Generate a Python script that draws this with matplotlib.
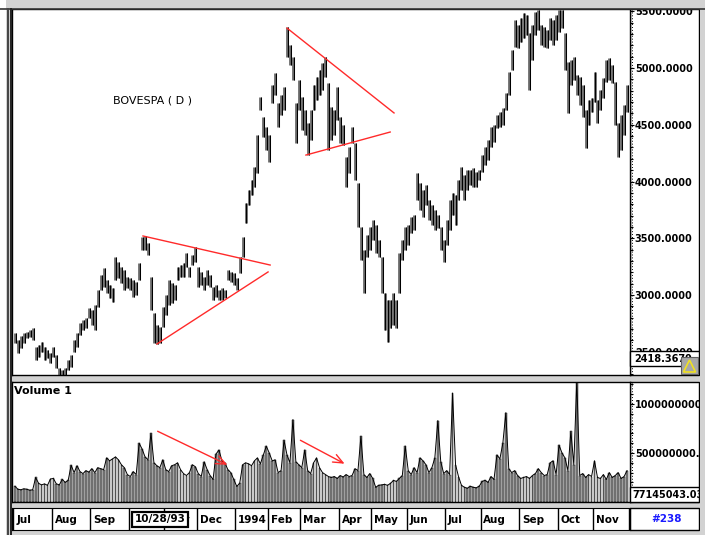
import numpy as np
import matplotlib
matplotlib.use('Agg')
import matplotlib.pyplot as plt
from matplotlib import font_manager
from matplotlib.patches import Rectangle, Polygon
from matplotlib.lines import Line2D
from matplotlib.ticker import MultipleLocator, FormatStrFormatter

# BOVESPA daily bars Jul/93 - Nov/94 (2 sessions per bar)
high = [2665, 2604, 2639, 2665, 2674, 2692, 2709, 2542, 2560, 2586,
        2542, 2516, 2489, 2542, 2472, 2357, 2339, 2357, 2427, 2472,
        2604, 2665, 2753, 2780, 2797, 2886, 2868, 2912, 3044, 3176,
        3238, 3132, 3088, 3062, 3335, 3291, 3247, 3220, 3159, 3150,
        3132, 3115, 3282, 3511, 3520, 3458, 3159, 2841, 2736, 2718,
        2894, 3000, 3132, 3106, 3088, 3247, 3264, 3282, 3370, 3247,
        3353, 3423, 3247, 3203, 3159, 3220, 3176, 3071, 3088, 3044,
        3062, 3044, 3220, 3203, 3194, 3150, 3335, 3511, 3811, 3925,
        4013, 4128, 4410, 4744, 4568, 4480, 4410, 4850, 4956, 4692,
        4762, 4833, 5361, 5203, 5097, 4692, 4894, 4744, 4630, 4515,
        4630, 4850, 4921, 4982, 5044, 5097, 4868, 4656, 4630, 4833,
        4568, 4498, 4216, 4304, 4480, 4339, 3987, 3599, 3397, 3529,
        3599, 3661, 3617, 3485, 3335, 3018, 2956, 2956, 3018, 2956,
        3370, 3485, 3599, 3617, 3687, 3705, 4075, 3987, 3925, 3969,
        3837, 3793, 3749, 3705, 3599, 3485, 3661, 3837, 3899, 3881,
        4013, 4128, 4057, 4101, 4101, 4119, 4084, 4101, 4233, 4304,
        4366, 4480, 4498, 4586, 4612, 4648, 4780, 4965, 5159, 5423,
        5379, 5440, 5484, 5467, 5308, 5379, 5493, 5511, 5379, 5361,
        5335, 5440, 5423, 5467, 5511, 5511, 5308, 5053, 5070, 5097,
        4938, 4921, 4850, 4630, 4718, 4736, 4965, 4718, 4806, 4912,
        5070, 5088, 5026, 4877, 4515, 4586, 4674, 4850]
low = [2577, 2489, 2533, 2577, 2621, 2630, 2604, 2427, 2454, 2498,
       2427, 2445, 2401, 2454, 2357, 2295, 2286, 2295, 2339, 2366,
       2498, 2542, 2648, 2692, 2709, 2797, 2736, 2692, 2894, 3044,
       3071, 3018, 2974, 2938, 3132, 3150, 3106, 3044, 3062, 3044,
       2982, 3000, 3132, 3397, 3397, 3353, 2868, 2577, 2568, 2577,
       2718, 2824, 2912, 2930, 2956, 3132, 3159, 3159, 3247, 3159,
       3264, 3291, 3071, 3088, 3044, 3088, 3071, 2956, 2982, 2956,
       2956, 2974, 3132, 3115, 3088, 3044, 3194, 3335, 3634, 3793,
       3881, 3952, 4075, 4630, 4392, 4278, 4172, 4692, 4762, 4480,
       4586, 4630, 5097, 5026, 4894, 4339, 4630, 4454, 4410, 4233,
       4366, 4630, 4718, 4762, 4806, 4921, 4278, 4366, 4410, 4542,
       4339, 4322, 3952, 4075, 4339, 4013, 3599, 3308, 3018, 3335,
       3397, 3485, 3370, 3335, 3018, 2692, 2586, 2709, 2736, 2709,
       3018, 3308, 3397, 3441, 3546, 3573, 3837, 3749, 3687, 3793,
       3661, 3617, 3573, 3590, 3397, 3291, 3441, 3573, 3705, 3617,
       3837, 3925, 3837, 3925, 3969, 3952, 3952, 4013, 4084, 4145,
       4190, 4304, 4348, 4471, 4480, 4498, 4630, 4762, 4982, 5185,
       5176, 5229, 5264, 5291, 4806, 5070, 5291, 5335, 5203, 5185,
       5176, 5247, 5203, 5247, 5317, 5352, 4982, 4604, 4850, 4894,
       4762, 4674, 4568, 4295, 4498, 4612, 4700, 4515, 4630, 4736,
       4877, 4894, 4868, 4498, 4216, 4278, 4410, 4612]
# volume in millions
volume = [160, 130, 125, 135, 130, 120, 125, 250, 190, 175,
          185, 170, 235, 240, 185, 175, 230, 200, 220, 375,
          300, 370, 310, 290, 320, 305, 340, 300, 350, 340,
          330, 450, 420, 440, 460, 430, 380, 350, 280, 260,
          310, 280, 600, 540, 460, 430, 700, 400, 370, 350,
          430, 330, 310, 370, 380, 400, 330, 290, 270, 300,
          380, 360, 290, 260, 410, 330, 270, 230, 490, 530,
          420, 400, 330, 300, 230, 160, 190, 380, 400, 390,
          370, 420, 450, 390, 480, 570, 500, 420, 430, 300,
          320, 630, 480, 400, 840, 410, 380, 350, 530, 320,
          290, 400, 450, 350, 300, 280, 260, 250, 260, 240,
          270, 255, 280, 260, 270, 340, 320, 670, 280, 250,
          290, 240, 150, 170, 175, 180, 170, 190, 220, 210,
          240, 270, 570, 320, 280, 350, 300, 450, 420, 380,
          300, 350, 450, 830, 410, 290, 320, 280, 1110, 380,
          260, 170, 150, 140, 160, 150, 145, 160, 210, 220,
          200, 260, 230, 480, 440, 600, 910, 340, 300, 320,
          270, 240, 250, 260, 240, 270, 290, 340, 300, 270,
          280, 400, 420, 280, 580, 500, 450, 320, 720, 380,
          1240, 270, 290, 250, 280, 260, 420, 250, 240, 280,
          230, 300, 250, 270, 300, 240, 260, 320]

months = ['Jul', 'Aug', 'Sep', 'Oct', 'Nov', 'Dec', '1994', 'Feb', 'Mar',
          'Apr', 'May', 'Jun', 'Jul', 'Aug', 'Sep', 'Oct', 'Nov']
bars_per_month = [13, 13, 13, 12, 11, 13, 11, 11, 13, 11, 12, 13, 12, 13, 13, 12, 12]
cursor_bar = 49
cursor_label = '10/28/93'

# hand drawn red lines: (bar, price) and arrows on volume: (bar, volume M)
trend_bars = [[43.3, 86.3], [48.0, 85.6], [92.0, 128.2], [98.4, 126.9]]
trend_prices = [[3520, 3264], [2568, 3203], [5352, 4604], [4233, 4436]]
arrow_bars = [[47.4, 72.7], [95.7, 112.3]]
arrow_vols = [[734, 367], [643, 377]]

W, H = 705, 535
names = {f.name for f in font_manager.fontManager.ttflist}
if 'Liberation Sans Narrow' in names:
    FONT, FS, TS = 'Liberation Sans Narrow', 10, 9.5
else:
    FONT, FS, TS = 'DejaVu Sans', 7.5, 7
plt.rcParams['font.family'] = FONT
plt.rcParams['font.weight'] = 'bold'

def box(x0, y0, x1, y1):
    return [x0 / W, 1 - y1 / H, (x1 - x0) / W, (y1 - y0) / H]

def rect(x0, y0, x1, y1, z, fc='white', ec='black', lw=1):
    r = Rectangle((x0 / W, 1 - y1 / H), (x1 - x0) / W, (y1 - y0) / H,
                  transform=fig.transFigure, fc=fc, ec=ec, lw=lw, zorder=z)
    fig.patches.append(r)

fig = plt.figure(figsize=(W / 100, H / 100), dpi=100, facecolor='#d2d2d2')

# white boxes behind the right hand scales
rect(630, 9, 699, 375, -1)
rect(630, 382, 699, 502, -1)
rect(630, 508, 699, 530, -1)

ax = fig.add_axes(box(12, 9, 630, 375))
axv = fig.add_axes(box(12, 382, 630, 502))
axd = fig.add_axes(box(12, 508, 630, 530))

n = len(high)
x = np.arange(n)
hi = np.array(high)
lo = np.array(low)
vol = np.array(volume) * 1e6

# price bars
ax.vlines(x, lo, hi, color='#6a6a6a', lw=2.0)
ax.vlines(x + 0.3, lo, hi, color='black', lw=0.75)
for xs, ps in zip(trend_bars, trend_prices):
    ax.plot(xs, ps, color='#ff2a2a', lw=1.0)
ax.set_xlim(-1, n)
ax.set_ylim(2295, 5520)
ax.text(0.163, 0.749, 'BOVESPA ( D )', transform=ax.transAxes, fontsize=FS + 0.5,
        fontweight='normal', va='center', ha='left')

# volume
axv.bar(x, vol, width=0.6, color='#8e8e8e', edgecolor='black', lw=0.3)
axv.plot(x, vol, color='black', lw=0.7)
for xs, vs in zip(arrow_bars, arrow_vols):
    axv.annotate('', xy=(xs[1], vs[1] * 1e6), xytext=(xs[0], vs[0] * 1e6),
                 arrowprops=dict(arrowstyle='->,head_length=0.7,head_width=0.3',
                                 color='#ff2a2a', lw=1.0))
axv.set_xlim(-1, n)
axv.set_ylim(0, 1224e6)
axv.text(0.003, 0.925, 'Volume 1', transform=axv.transAxes, fontsize=FS + 0.5,
         va='center', ha='left')

for a in (ax, axv):
    a.yaxis.tick_right()
    a.tick_params(axis='x', bottom=False, labelbottom=False)
    a.tick_params(axis='y', which='major', direction='out', length=3,
                  width=0.8, pad=0.5, labelsize=TS)
    a.tick_params(axis='y', which='minor', direction='out', length=2, width=0.8)
    for s in a.spines.values():
        s.set_color('black')
        s.set_linewidth(1)

ax.set_yticks(np.arange(2500, 5501, 500))
ax.yaxis.set_major_formatter(FormatStrFormatter('%.4f'))
ax.yaxis.set_minor_locator(MultipleLocator(100))
axv.set_yticks([500e6, 1000e6])
axv.set_yticklabels(['500000000.0', '1000000000'])
axv.yaxis.set_minor_locator(MultipleLocator(100e6))

# dotted scale lines
for y0, y1 in [(9, 375), (382, 502)]:
    fig.add_artist(Line2D([631.5 / W] * 2, [1 - y0 / H, 1 - y1 / H],
                          transform=fig.transFigure, color='black', lw=0.7,
                          ls=(0, (1, 2))))

# date strip
starts = np.concatenate([[0], np.cumsum(bars_per_month)[:-1]])
axd.set_xlim(-1, n)
axd.set_ylim(0, 1)
axd.set_xticks([])
axd.set_yticks([])
for s, m in zip(starts, months):
    axd.axvline(s - 0.5, color='black', lw=1)
    axd.annotate(m, (s - 0.5, 0.45), xytext=(2, 0), textcoords='offset points',
                 ha='left', va='center', fontsize=FS)
axd.axvline(n - 0.5, color='black', lw=1)
axd.text(cursor_bar, 0.48, cursor_label, ha='center', va='center', fontsize=FS,
         zorder=5, bbox=dict(boxstyle='square,pad=0.25', fc='white', ec='black', lw=1.6))
fig.text(666 / W, 1 - 519 / H, '#238', color='#1a1aff', ha='center', va='center',
         fontsize=FS)

# value boxes on the right scales
rect(630, 351, 699, 366, 5)
fig.text(634 / W, 1 - 359 / H, '2418.3679', fontsize=TS, va='center', ha='left', zorder=6)
rect(681, 357, 698, 374, 7, fc='#a8a8a8', ec='#606060', lw=0.8)
fig.patches.append(Polygon([[683.5 / W, 1 - 372 / H], [689.5 / W, 1 - 360 / H],
                            [695.5 / W, 1 - 372 / H]], closed=True, fill=False,
                           ec='#f0e020', lw=1.2, transform=fig.transFigure, zorder=8))
rect(630, 487, 699, 502, 5)
fig.text(632 / W, 1 - 495 / H, '77145043.03', fontsize=TS, va='center', ha='left', zorder=6)

# window frame
rect(0, 0, W, 8.5, 9, fc='#d2d2d2', ec='none', lw=0)
rect(699.5, 0, W, H, 9, fc='#d2d2d2', ec='none', lw=0)
rect(0, 0, 6, H, 9, fc='white', ec='none', lw=0)
fig.add_artist(Line2D([0, 1], [1 - 8.5 / H] * 2, transform=fig.transFigure,
                      color='#333333', lw=1.2, zorder=10))
for xl, c in [(8, '#444444'), (11, '#222222')]:
    fig.add_artist(Line2D([xl / W] * 2, [0, 1 - 8.5 / H], transform=fig.transFigure,
                          color=c, lw=1.4, zorder=10))

fig.savefig('out.png', dpi=100, facecolor=fig.get_facecolor())
